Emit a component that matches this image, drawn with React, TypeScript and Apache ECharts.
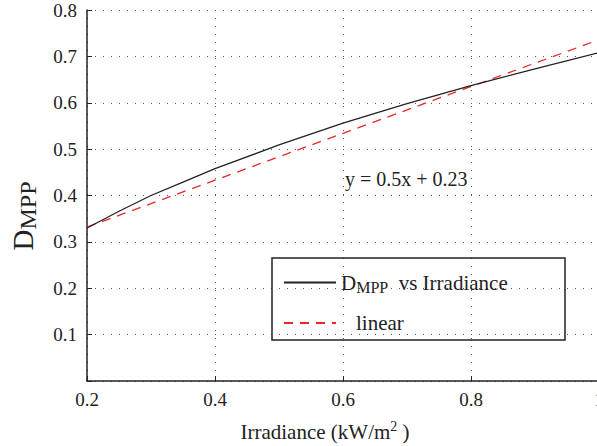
import React, { useEffect, useRef } from "react";
import * as echarts from "echarts";

const xTicks = [0.2, 0.4, 0.6, 0.8, 1.0];
const yTicks = [0, 0.1, 0.2, 0.3, 0.4, 0.5, 0.6, 0.7, 0.8];
const irradiance = [0.2, 0.25, 0.3, 0.35, 0.4, 0.5, 0.6, 0.7, 0.8, 0.9, 1.0];
const dmppValues = [0.33, 0.366, 0.4, 0.429, 0.458, 0.509, 0.556, 0.598, 0.637, 0.673, 0.708];
const linearX = [0.2, 1.0];
const linearY = [0.332, 0.736];
const fitLabel = "y = 0.5x + 0.23";

const FONT = "'Liberation Serif', 'DejaVu Serif', serif";
const INK = "#222";

export default function App() {
  const ref = useRef<HTMLDivElement>(null);
  useEffect(() => {
    if (!ref.current) return;
    const chart = echarts.init(ref.current, undefined, { renderer: "svg" });
    const gridLine = { show: true, lineStyle: { color: "#555", type: [1, 7] as any, width: 1 } };
    const tickLabel = { fontSize: 19, fontFamily: FONT, color: INK };
    chart.setOption({
      animation: false,
      backgroundColor: "#fff",
      grid: {
        left: 87,
        top: 10,
        width: 512,
        height: 371,
        containLabel: false,
        outerBoundsMode: "none",
      },
      xAxis: {
        type: "value",
        min: xTicks[0],
        max: xTicks[xTicks.length - 1],
        interval: 0.2,
        axisLine: { show: true, onZero: false, lineStyle: { color: INK, width: 1.5 } },
        axisTick: { show: true, inside: true, length: 5, lineStyle: { color: INK } },
        axisLabel: {
          ...tickLabel,
          margin: 9,
          formatter: (v: number) => String(+v.toFixed(1)),
        },
        splitLine: gridLine,
        name: "{a|Irradiance (kW/m}{p|2}{a| )}",
        nameLocation: "middle",
        nameGap: 38,
        nameTextStyle: {
          padding: [0, 36, 0, 0],
          rich: {
            a: { fontSize: 21, fontFamily: FONT, color: INK, lineHeight: 26 },
            p: { fontSize: 14, fontFamily: FONT, color: INK, verticalAlign: "top", lineHeight: 12 },
          },
        },
      },
      yAxis: {
        type: "value",
        min: yTicks[0],
        max: yTicks[yTicks.length - 1],
        interval: 0.1,
        axisLine: { show: true, lineStyle: { color: INK, width: 1.5 } },
        axisTick: { show: true, inside: true, length: 5, lineStyle: { color: INK } },
        axisLabel: {
          ...tickLabel,
          margin: 10,
          formatter: (v: number) => (v === 0 ? "" : String(+v.toFixed(1))),
        },
        splitLine: gridLine,
      },
      legend: {
        left: 283,
        top: 272,
        orient: "vertical",
        itemWidth: 52,
        itemHeight: 14,
        itemGap: 17,
        padding: 0,
        itemStyle: { opacity: 0 },
        data: ["dmpp", "linear"],
        formatter: (name: string) =>
          name === "dmpp" ? "{a|D}{s|MPP}{a|  vs Irradiance}" : "{b|linear}",
        textStyle: {
          rich: {
            a: { fontSize: 21, fontFamily: FONT, color: INK, lineHeight: 26 },
            s: { fontSize: 16, fontFamily: FONT, color: INK, verticalAlign: "bottom", lineHeight: 10 },
            b: { fontSize: 21, fontFamily: FONT, color: INK, lineHeight: 26, padding: [0, 0, 0, 15] },
          },
        },
      },
      graphic: [
        {
          type: "text",
          x: 23,
          y: 216,
          rotation: Math.PI / 2,
          style: {
            text: "{a|D}{s|MPP}",
            align: "center",
            verticalAlign: "middle",
            rich: {
              a: { fontSize: 29, fontFamily: FONT, fill: INK, lineHeight: 34 },
              s: { fontSize: 24, fontFamily: FONT, fill: INK, verticalAlign: "bottom", lineHeight: 24 },
            },
          },
        },
        {
          type: "rect",
          shape: { x: 272, y: 258, width: 293, height: 82 },
          style: { fill: "none", stroke: INK, lineWidth: 1.5 },
          z: 100,
        },
        {
          type: "text",
          x: 345,
          y: 179,
          style: {
            text: fitLabel,
            font: "20px " + FONT,
            fill: INK,
            verticalAlign: "middle",
          },
          z: 100,
        },
      ],
      series: [
        {
          name: "dmpp",
          type: "line",
          data: irradiance.map((x, i) => [x, dmppValues[i]]),
          showSymbol: false,
          symbol: "none",
          lineStyle: { color: INK, width: 1.3 },
          itemStyle: { color: INK },
          z: 3,
        },
        {
          name: "linear",
          type: "line",
          data: linearX.map((x, i) => [x, linearY[i]]),
          showSymbol: false,
          symbol: "none",
          lineStyle: { color: "#e8262b", width: 1.3, type: [9, 7] as any },
          itemStyle: { color: "#e8262b" },
          z: 2,
        },
      ],
    });
    return () => chart.dispose();
  }, []);
  return (
    <div
      ref={ref}
      style={{ position: "absolute", left: 0, top: 0, width: 597, height: 446 }}
    />
  );
}
